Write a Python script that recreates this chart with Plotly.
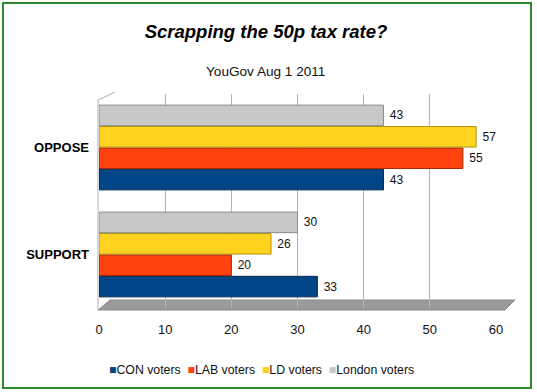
import plotly.graph_objects as go

categories = ["SUPPORT", "OPPOSE"]
series_names = ["CON voters", "LAB voters", "LD voters", "London voters"]
con_values = [33, 43]
lab_values = [20, 55]
ld_values = [26, 57]
london_values = [30, 43]
x_ticks = [0, 10, 20, 30, 40, 50, 60]

colors = ["#004586", "#ff420e", "#ffd320", "#c8c8c8"]
edge_colors = ["#002a52", "#a32a09", "#b39410", "#8a8a8a"]
all_values = [con_values, lab_values, ld_values, london_values]

FONT = "Liberation Sans, Arial"

fig = go.Figure()
for name, vals, c, ec in zip(series_names, all_values, colors, edge_colors):
    fig.add_trace(go.Bar(
        y=categories, x=vals, name=name, orientation="h",
        marker=dict(color=c, line=dict(color=ec, width=1)),
        text=vals, texttemplate=" %{x}", textposition="outside", cliponaxis=False,
        textfont=dict(family=FONT, size=12, color="#111111"),
        showlegend=False,
    ))

W, H = 537, 392
L, R, T, B = 99, 496, 94, 308

def px(p):
    return (p - L) / (R - L)

def py(p):
    return (B - p) / (B - T)

legend_html = "&nbsp;&nbsp;".join(
    f"<span style='color:{c}'>■</span>{n}" for n, c in zip(series_names, colors)
)

shapes = [
    dict(type="path", xref="paper", yref="paper",
         path=f"M {px(98)},{py(310)} L {px(505)},{py(310)} L {px(515)},{py(300)} L {px(110)},{py(300)} Z",
         fillcolor="#9a9a9a", line=dict(color="#8a8a8a", width=1), layer="below"),
    dict(type="line", xref="paper", yref="paper", x0=px(98), y0=py(310), x1=px(98), y1=py(100),
         line=dict(color="#b0b0b0", width=1), layer="below"),
    dict(type="line", xref="paper", yref="paper", x0=px(98), y0=py(100), x1=px(115), y1=py(92),
         line=dict(color="#b0b0b0", width=1), layer="below"),
    dict(type="rect", xref="paper", yref="paper", x0=px(3), y0=py(388), x1=px(531), y1=py(3),
         line=dict(color="#2b8a2b", width=2), layer="above"),
]

fig.update_layout(
    width=W, height=H,
    margin=dict(l=L, r=W - R, t=T, b=H - B, autoexpand=False),
    paper_bgcolor="white", plot_bgcolor="white",
    barmode="group", bargap=0.2, bargroupgap=0.04,
    font=dict(family=FONT, size=12, color="#111111"),
    title=dict(text="<b><i>Scrapping the 50p tax rate?</i></b>", x=266 / W, xanchor="center",
               y=1 - 32 / H, yanchor="middle",
               font=dict(family=FONT, size=18.5, color="#000000")),
    annotations=[
        dict(text="YouGov Aug 1 2011", xref="paper", yref="paper",
             x=px(265), y=py(71), showarrow=False, xanchor="center", yanchor="middle",
             font=dict(family=FONT, size=13.6, color="#111111")),
        dict(text=legend_html, xref="paper", yref="paper",
             x=px(261), y=py(370), showarrow=False, xanchor="center", yanchor="middle",
             font=dict(family=FONT, size=12.3, color="#111111")),
    ],
    xaxis=dict(range=[0, 60], tickvals=x_ticks, showgrid=True, gridcolor="#b3b3b3",
               gridwidth=1, zeroline=False, showline=False, ticks="", automargin=False,
               tickfont=dict(size=13, color="#111111"), ticklabelstandoff=12),
    yaxis=dict(categoryorder="array", categoryarray=categories, showgrid=False,
               showline=False, ticks="", ticklabelstandoff=9, automargin=False,
               tickfont=dict(size=13, color="#000000", family=FONT, weight="bold")),
    shapes=shapes,
    showlegend=False,
)

fig.write_html(
    "out.html",
    config={"displayModeBar": False},
    post_script="document.body.style.margin='0';document.body.style.overflow='hidden';",
)
